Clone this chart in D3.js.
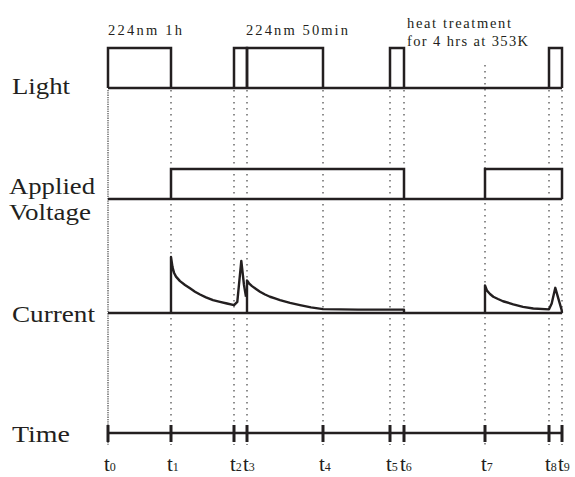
<!DOCTYPE html>
<html>
<head>
<meta charset="utf-8">
<script src="https://cdn.jsdelivr.net/npm/d3@7"></script>
<style>
  body { margin: 0; background: #fff; }
  text { font-family: "Liberation Serif", "Times New Roman", serif; fill: #231f20; }
</style>
</head>
<body>
<div id="chart"></div>
<script>
// time marks t0..t9 (schematic time units)
const tickNames = ["0", "1", "2", "3", "4", "5", "6", "7", "8", "9"];
const tickTimes = [0, 63, 126, 139, 215, 282, 296, 377, 441, 454];

// on intervals, as pairs of tick indexes
const lightOn = [[0, 1], [2, 3], [3, 4], [5, 6], [8, 9]];
const voltageOn = [[1, 6], [7, 9]];

// current traces [time, relative current]
const currentA = [[63, 0], [63, 1.0], [64.5, 0.82], [66, 0.72], [68, 0.65], [72, 0.57], [77, 0.5],
  [82, 0.44], [87, 0.38], [92, 0.33], [98, 0.28], [105, 0.23], [112, 0.2], [119, 0.17],
  [126, 0.14], [129.3, 0.2], [133.3, 0.93], [136, 0.5], [138, 0.29]];
const currentB = [[139, 0], [139, 0.58], [141, 0.53], [144, 0.48], [148, 0.43], [152, 0.38],
  [157, 0.33], [162, 0.29], [167, 0.26], [172, 0.23], [182, 0.18], [192, 0.14], [203, 0.1],
  [215, 0.07], [250, 0.06], [296, 0.06], [296, 0]];
const currentC = [[377, 0], [377, 0.49], [379, 0.4], [382, 0.34], [385.3, 0.29], [390, 0.25],
  [395, 0.21], [405.3, 0.155], [415, 0.11], [425.3, 0.08], [441, 0.065], [443.7, 0.17],
  [447.3, 0.45], [451.3, 0.2], [453.7, 0.05], [454, 0]];

const rowLabels = [["Light"], ["Applied", "Voltage"], ["Current"], ["Time"]];
const notes = [["224nm 1h"], ["224nm 50min"], ["heat treatment", "for 4 hrs at 353K"]];

const W = 575, H = 477;
const ink = "#231f20";

const svg = d3.select("#chart").append("svg")
  .attr("width", W).attr("height", H)
  .attr("viewBox", `0 0 ${W} ${H}`)
  .style("display", "block");

const x = d3.scaleLinear()
  .domain([tickTimes[0], tickTimes[tickTimes.length - 1]])
  .range([108, 562]);

const yLight = d3.scaleLinear().domain([0, 1]).range([88, 48]);
const yVolt = d3.scaleLinear().domain([0, 1]).range([199, 169]);
const yCur = d3.scaleLinear().domain([0, 1]).range([313, 257]);
const axisY = 433;

// dotted guide lines
svg.append("g")
  .selectAll("line")
  .data(tickTimes)
  .join("line")
  .attr("x1", d => x(d)).attr("x2", d => x(d))
  .attr("y1", (d, i) => lightOn.some(p => p[0] === i || p[1] === i) ? yLight(0) + 2 : 65)
  .attr("y2", 445)
  .attr("stroke", "#444")
  .attr("stroke-width", 1.2)
  .attr("stroke-dasharray", (d, i) => i === 0 ? "1.3,1" : "1.5,4.5");

// square wave rows
function squareRow(on, y) {
  const g = svg.append("g")
    .attr("fill", "none")
    .attr("stroke", ink)
    .attr("stroke-width", 2.5);
  g.append("line")
    .attr("x1", x(tickTimes[0])).attr("x2", x(tickTimes[tickTimes.length - 1]))
    .attr("y1", y(0)).attr("y2", y(0));
  g.selectAll("path")
    .data(on)
    .join("path")
    .attr("stroke-linejoin", "miter")
    .attr("d", p => `M${x(tickTimes[p[0]])},${y(0)}V${y(1)}H${x(tickTimes[p[1]])}V${y(0)}`);
}
squareRow(lightOn, yLight);
squareRow(voltageOn, yVolt);

// current row
const cur = svg.append("g")
  .attr("fill", "none")
  .attr("stroke", ink)
  .attr("stroke-width", 2.4)
  .attr("stroke-linejoin", "round");
cur.append("line")
  .attr("x1", x(tickTimes[0])).attr("x2", x(tickTimes[tickTimes.length - 1]))
  .attr("y1", yCur(0)).attr("y2", yCur(0))
  .attr("stroke-width", 2.5);
const line = d3.line().x(d => x(d[0])).y(d => yCur(d[1]));
cur.selectAll("path")
  .data([currentA, currentB, currentC])
  .join("path")
  .attr("d", line);

// time axis
svg.append("line")
  .attr("x1", x(tickTimes[0])).attr("x2", x(tickTimes[tickTimes.length - 1]))
  .attr("y1", axisY).attr("y2", axisY)
  .attr("stroke", ink).attr("stroke-width", 2.5);
svg.append("g")
  .selectAll("line")
  .data(tickTimes)
  .join("line")
  .attr("x1", d => x(d)).attr("x2", d => x(d))
  .attr("y1", axisY - 8).attr("y2", axisY + 9)
  .attr("stroke", ink).attr("stroke-width", 3);

// tick labels, pushed right when they would collide
let prevEnd = -Infinity;
tickTimes.forEach((d, i) => {
  const x0 = Math.max(x(d) - 4, prevEnd + 1);
  const t = svg.append("text")
    .attr("x", x0).attr("y", 471);
  t.append("tspan").attr("font-size", 21).text("t");
  t.append("tspan").attr("font-size", 12).text(tickNames[i]);
  prevEnd = x0 + t.node().getComputedTextLength();
});

// row labels
const rowPos = [[12, [94], 58], [9, [194, 220], 86], [12, [322], 83], [12, [442], 58]];
rowLabels.forEach((lines, i) => {
  lines.forEach((s, j) => {
    svg.append("text")
      .attr("x", rowPos[i][0]).attr("y", rowPos[i][1][j])
      .attr("font-size", 24)
      .attr("textLength", j === 1 ? 82 : rowPos[i][2])
      .attr("lengthAdjust", "spacingAndGlyphs")
      .text(s);
  });
});

// annotations
const notePos = [[108, [35], [74]], [246, [35], [102]], [407, [28, 46], [104, 121]]];
notes.forEach((lines, i) => {
  lines.forEach((s, j) => {
    svg.append("text")
      .attr("x", notePos[i][0]).attr("y", notePos[i][1][j])
      .attr("font-size", 14.5)
      .attr("textLength", notePos[i][2][j])
      .attr("lengthAdjust", "spacing")
      .text(s);
  });
});
</script>
</body>
</html>
